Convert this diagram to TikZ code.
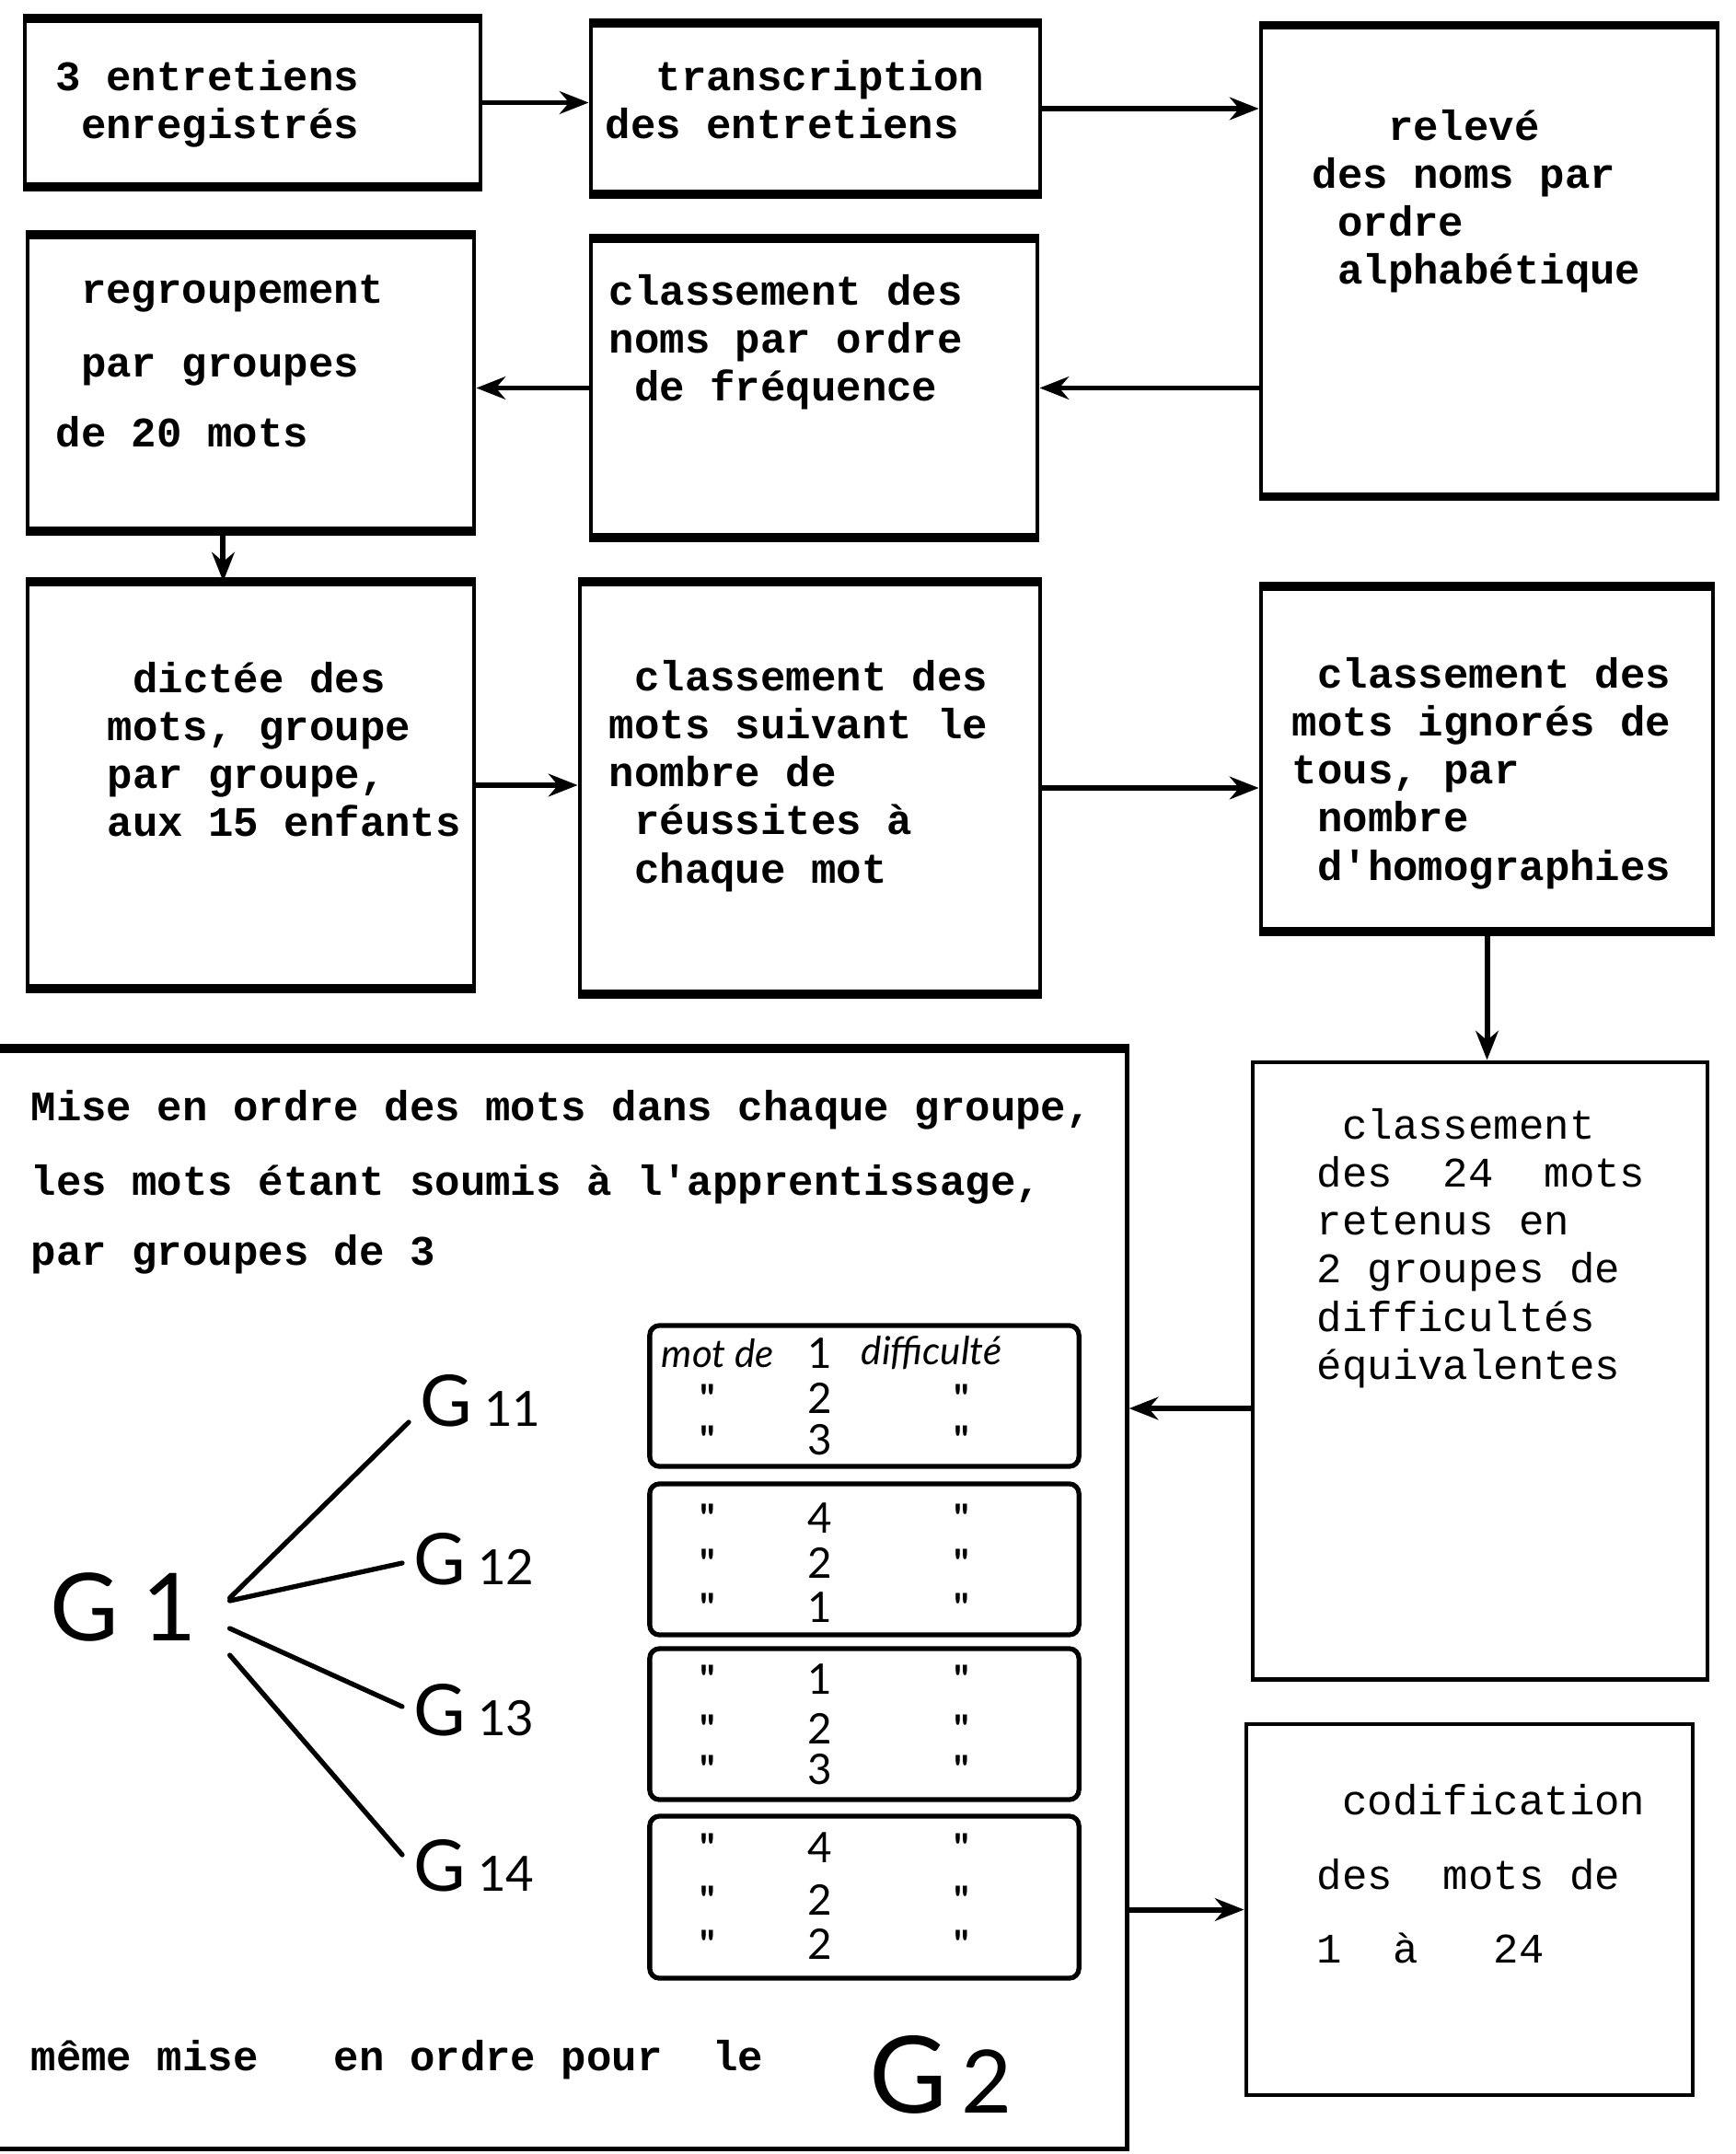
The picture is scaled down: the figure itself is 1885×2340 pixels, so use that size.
\documentclass[tikz,border=0pt]{standalone}
\usepackage{fontspec}
\setmonofont{Liberation Mono}
\newfontfamily\handfont{Lato}
\usetikzlibrary{arrows.meta}
\newcommand{\blankchar}{\phantom{x}}
\newcommand{\glabel}[1]{G\,{\fontsize{15}{15}\selectfont #1}}

\begin{document}
\begin{tikzpicture}
[x=0.01cm,y=-0.01cm,
  boxdecorate/.style={shape=rectangle,draw,line width=1.3pt},
  edgedecorate/.style={-,line width=2.8pt},
  tabdecorate/.style={shape=rectangle,draw,line width=1.5pt,rounded corners=3pt,minimum width=4.66cm},
  textdecorate/.style={anchor=north west,inner sep=0pt,align=left,font=\ttfamily\bfseries\fontsize{13}{14.8}\selectfont},
  typedecorate/.style={textdecorate,font=\ttfamily\fontsize{13}{14.8}\selectfont},
  arrowdecorate/.style={-{Stealth[length=9pt,width=7pt]},line width=1.7pt},
  linedecorate/.style={-,line width=1.5pt,line cap=round},
  handdecorate/.style={inner sep=1pt,font=\handfont\fontsize{22}{22}\selectfont},
  numdecorate/.style={inner sep=0pt,font=\handfont\fontsize{13}{13}\selectfont},
  dittodecorate/.style={inner sep=0pt,font=\handfont\bfseries\fontsize{12}{12}\selectfont}]
\useasboundingbox (0,0) rectangle (1885,2340);
%% boxes
\foreach \nodename/\x/\y/\w/\h in {a/274.5/111.5/4.95/1.79, b/886/118/4.88/1.82,
  c/1618/283.5/4.96/5.07, d/272.5/416/4.85/3.18, e/884.5/421.5/4.85/3.21,
  f/272.5/853/4.85/4.38, g/880/856/5.00/4.44, h/1615.5/824.5/4.91/3.71,
  i/607/1738/12.34/11.92, j/1608/1489/4.94/6.70, k/1596.5/2074.5/4.85/4.03} {
  \node (\nodename) at (\x,\y) [boxdecorate,minimum width=\w cm,minimum height=\h cm] {};
}
\foreach \nodename in {a,b,c,d,e,f,g,h} {
  \draw[edgedecorate] (\nodename.north west) -- (\nodename.north east)
    (\nodename.south west) -- (\nodename.south east);
}
\draw[edgedecorate] (i.north west) -- (i.north east);
%% texts
\node (a-text) at (60,65) [textdecorate] {3 entretiens\\\blankchar enregistrés};
\node (b-text) at (657,65) [textdecorate] {\blankchar\blankchar transcription\\des entretiens};
\node (c-text) at (1425,119) [textdecorate] {\blankchar\blankchar\blankchar relevé\\des noms par\\\blankchar ordre\\\blankchar alphabétique};
\node (d-text) at (60,298) [textdecorate] {\blankchar regroupement\\[8pt]\blankchar par groupes\\[7pt]de 20 mots};
\node (e-text) at (661,298) [textdecorate] {classement des\\noms par ordre\\\blankchar de fréquence};
\node (f-text) at (116,719) [textdecorate] {\blankchar dictée des\\mots, groupe\\par groupe,\\aux 15 enfants};
\node (g-text) at (661,717) [textdecorate] {\blankchar classement des\\mots suivant le\\nombre de\\\blankchar réussites à\\\blankchar chaque mot};
\node (h-text) at (1403,714) [textdecorate] {\blankchar classement des\\mots ignorés de\\tous, par\\\blankchar nombre\\\blankchar d'homographies};
\node (i-text) at (33,1184) [textdecorate] {Mise en ordre des mots dans chaque groupe,\\[8pt]les mots étant soumis à l'apprentissage,\\[7pt]par groupes de 3};
\node (i-foot) at (33,2216) [textdecorate] {même mise~~~en ordre pour~~le};
\node (j-text) at (1430,1204) [typedecorate] {\blankchar classement\\des~~24~~mots\\retenus en\\2 groupes de\\difficultés\\équivalentes};
\node (k-text) at (1430,1938) [typedecorate] {\blankchar codification\\[8pt]des~~mots de\\[8pt]1~~à~~~24};
%% arrows
\draw[arrowdecorate] (a.east) -- (a.east -| b.west);
\draw[arrowdecorate] (b.east) -- (b.east -| c.west);
\draw[arrowdecorate] (c.west |- e.east) -- (e.east);
\draw[arrowdecorate] (e.west) -- (e.west -| d.east);
\coordinate (df) at ([xshift=-0.3cm]d.south);
\draw[arrowdecorate] (df) -- (df |- f.north);
\draw[arrowdecorate] (f.east) -- (f.east -| g.west);
\draw[arrowdecorate] (g.east) -- (g.east -| h.west);
\draw[arrowdecorate] (h.south) -- (h.south |- j.north);
\coordinate (ji) at ([yshift=-0.41cm]j.west);
\draw[arrowdecorate] (ji) -- (ji -| i.east);
\draw[arrowdecorate] (i.east |- k.west) -- (k.west);
%% groups G1
\node (g1) at (134,1746) [handdecorate,font=\handfont\fontsize{29}{29}\selectfont,inner xsep=0.35cm] {G 1};
\foreach \nodename/\x/\y/\num in {g11/522/1522/11, g12/515/1694/12, g13/515/1858/13, g14/515/2027/14} {
  \node (\nodename) at (\x,\y) [handdecorate,inner xsep=0.12cm] {\glabel{\num}};
}
\path
\foreach \endnode/\s/\t in {g11/0.1/-0.23, g12/0.07/-0.04, g13/-0.23/0.04, g14/-0.52/0.12} {
  ([yshift=\s cm]g1.east) edge[linedecorate] ([yshift=\t cm]\endnode.west)
};
\node (g2) at (1022,2254) [handdecorate,font=\handfont\fontsize{33}{33}\selectfont] {G{\fontsize{27}{27}\selectfont\,2}};
%% tables
\foreach \nodename/\y/\h in {t1/1516.5/1.53, t2/1694/1.64, t3/1873/1.64, t4/2061/1.76} {
  \node (\nodename) at (939,\y) [tabdecorate,minimum height=\h cm] {};
}
\node (t1-left) at (780,1470) [handdecorate,font=\handfont\itshape\fontsize{12}{12}\selectfont] {mot de};
\node (t1-num) at (891,1470) [numdecorate] {1};
\node (t1-right) at (1012,1470) [handdecorate,font=\handfont\itshape\fontsize{12}{12}\selectfont] {difficulté};
\foreach \y/\num in {1519/2, 1564/3, 1649/4, 1698/2, 1746/1, 1824/1, 1878/2, 1922/3, 2007/4, 2064/2, 2112/2} {
  \node (left\y) at (769,\y) [dittodecorate] {"};
  \node (num\y) at (891,\y) [numdecorate] {\num};
  \node (right\y) at (1045,\y) [dittodecorate] {"};
}
\end{tikzpicture}
\end{document}
